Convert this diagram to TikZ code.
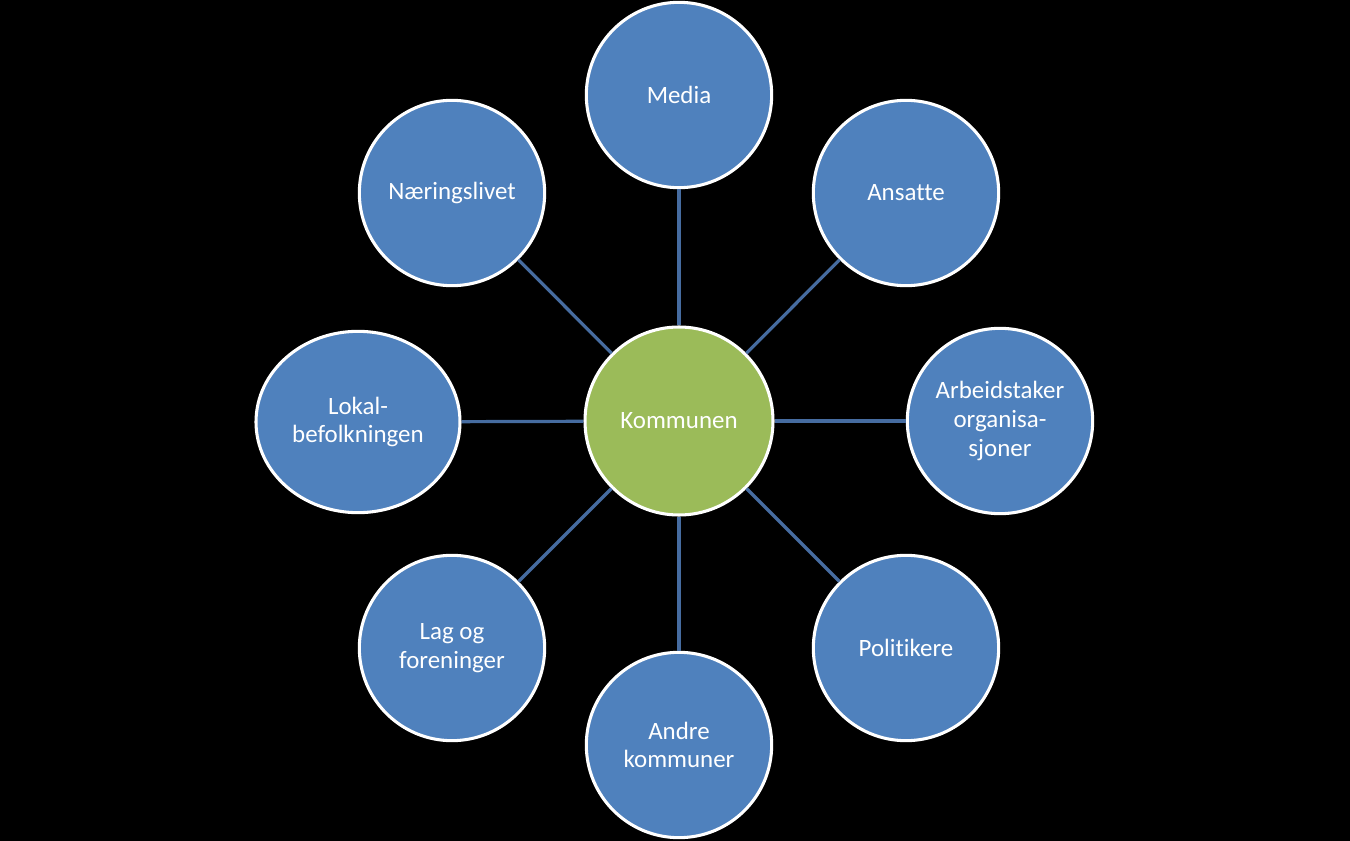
\documentclass[tikz,border=0pt]{standalone}
\usepackage{fontspec}
\setmainfont[RawFeature={-liga;-clig;-calt;-dlig}]{Carlito}
\usetikzlibrary{shapes.geometric}
\definecolor{nodeblue}{HTML}{4F81BD}
\definecolor{nodegreen}{HTML}{9BBB59}
\definecolor{connblue}{HTML}{466CA0}
\begin{document}
\begin{tikzpicture}[x=0.75pt,y=-0.75pt,
  bub/.style={circle,draw=white,line width=2.3pt,fill=nodeblue,text=white,
    minimum size=139pt,inner sep=0pt,align=center,
    font=\fontsize{18.7}{21.5}\selectfont},
  hub/.style={bub,fill=nodegreen,minimum size=141pt},
  conn/.style={draw=connblue,line width=2.4pt}]
\fill[black] (0,0) rectangle (1350,841);
\useasboundingbox (0,0) rectangle (1350,841);
\node[hub] (c) at (679,421) {Kommunen};
\node[bub] (media) at (679,95) {Media};
\node[bub] (ansatte) at (906,193) {Ansatte};
\node[bub] (arb) at (1000,421) {Arbeidstaker\\organisa-\\sjoner};
\node[bub] (pol) at (906,648) {Politikere};
\node[bub] (andre) at (679,745) {Andre\\kommuner};
\node[bub] (lag) at (452,648) {Lag og\\foreninger};
\node[bub,ellipse,minimum width=153pt,minimum height=136pt] (lokal) at (358,422) {Lokal-\\befolkningen};
\node[bub] (naer) at (452,193) {Næringslivet};
\foreach \n in {media,ansatte,arb,pol,andre,lag,lokal,naer}
  \draw[conn] (c) -- (\n);
\end{tikzpicture}
\end{document}
